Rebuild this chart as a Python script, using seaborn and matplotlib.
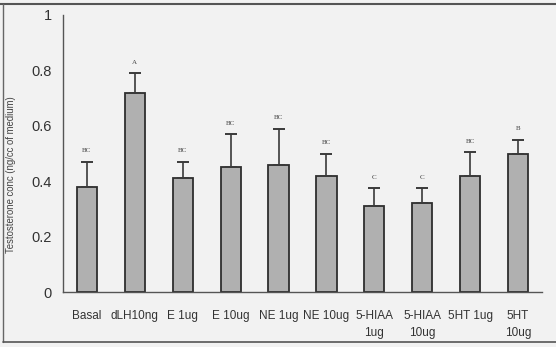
import matplotlib
matplotlib.use("Agg")
import matplotlib.pyplot as plt
import seaborn as sns
import numpy as np
import pandas as pd
from matplotlib.lines import Line2D

categories = ["Basal", "dLH10ng", "E 1ug", "E 10ug", "NE 1ug", "NE 10ug",
              "5-HIAA\n1ug", "5-HIAA\n10ug", "5HT 1ug", "5HT\n10ug"]
means = [0.38, 0.72, 0.41, 0.45, 0.46, 0.42, 0.31, 0.32, 0.42, 0.50]
upper = [0.47, 0.79, 0.47, 0.57, 0.59, 0.50, 0.375, 0.375, 0.505, 0.55]
letters = ["BC", "A", "BC", "BC", "BC", "BC", "C", "C", "BC", "B"]
yticks = [0, 0.2, 0.4, 0.6, 0.8, 1]
ytick_labels = ["0", "0.2", "0.4", "0.6", "0.8", "1"]

sns.set_style("white")
plt.rcParams["font.family"] = ["Liberation Sans", "DejaVu Sans"]

df = pd.DataFrame({"cat": categories, "val": means})

fig = plt.figure(figsize=(5.56, 3.47), dpi=100, facecolor="#f2f2f2")
ax = fig.add_axes([63/556, 1-292/347, (542-63)/556, (292-15)/347])
ax.set_facecolor("none")

sns.barplot(data=df, x="cat", y="val", ax=ax, color="#b0b0b0", width=0.42,
            edgecolor="#2e2e2e", linewidth=1.3, errorbar=None, saturation=1)

xs = np.arange(len(categories))
err = np.array(upper) - np.array(means)
ax.errorbar(xs, means, yerr=[np.zeros(len(xs)), err], fmt="none",
            ecolor="#3a3a3a", elinewidth=1.2, capsize=4.2, capthick=1.4, zorder=3)

for x, u, t in zip(xs, upper, letters):
    ax.text(x, u + 0.03, t, ha="center", va="bottom", fontsize=5,
            family=["Liberation Serif", "DejaVu Serif"], color="#444444")

ax.set_xlim(-0.5, len(categories) - 0.5)
ax.set_ylim(0, 1)
ax.set_yticks(yticks)
ax.set_yticklabels(ytick_labels, fontsize=10.5, color="#333333")

ax.set_xticks(xs)
ax.set_xticklabels(categories, fontsize=8.5, color="#333333", linespacing=1.6)
ax.tick_params(axis="x", which="major", length=0, pad=13)
ax.set_xticks(np.arange(len(categories)) + 0.5, minor=True)
ax.tick_params(axis="x", which="minor", length=8, direction="inout", width=1,
               color="#555555")
ax.tick_params(axis="y", which="major", length=6, direction="out", width=1,
               color="#555555", pad=2)

for s in ["top", "right"]:
    ax.spines[s].set_visible(False)
for s in ["left", "bottom"]:
    ax.spines[s].set_color("#555555")
    ax.spines[s].set_linewidth(1.0)

ax.set_xlabel("")
ax.set_ylabel("")
fig.text(11/556, 1-175/347, "Testosterone conc (ng/cc of medium)", rotation=90,
         ha="center", va="center", fontsize=6.9, color="#444444")

# scanned frame
fig.add_artist(Line2D([0, 1], [1-4/347, 1-4/347], color="#555555", lw=1.5,
                      transform=fig.transFigure))
fig.add_artist(Line2D([3/556, 3/556], [1-4/347, 1-342/347], color="#666666", lw=1.0,
                      transform=fig.transFigure))
fig.add_artist(Line2D([3/556, 1], [1-342/347, 1-342/347], color="#555555", lw=1.2,
                      transform=fig.transFigure))

fig.savefig("out.png", dpi=100, facecolor=fig.get_facecolor())
